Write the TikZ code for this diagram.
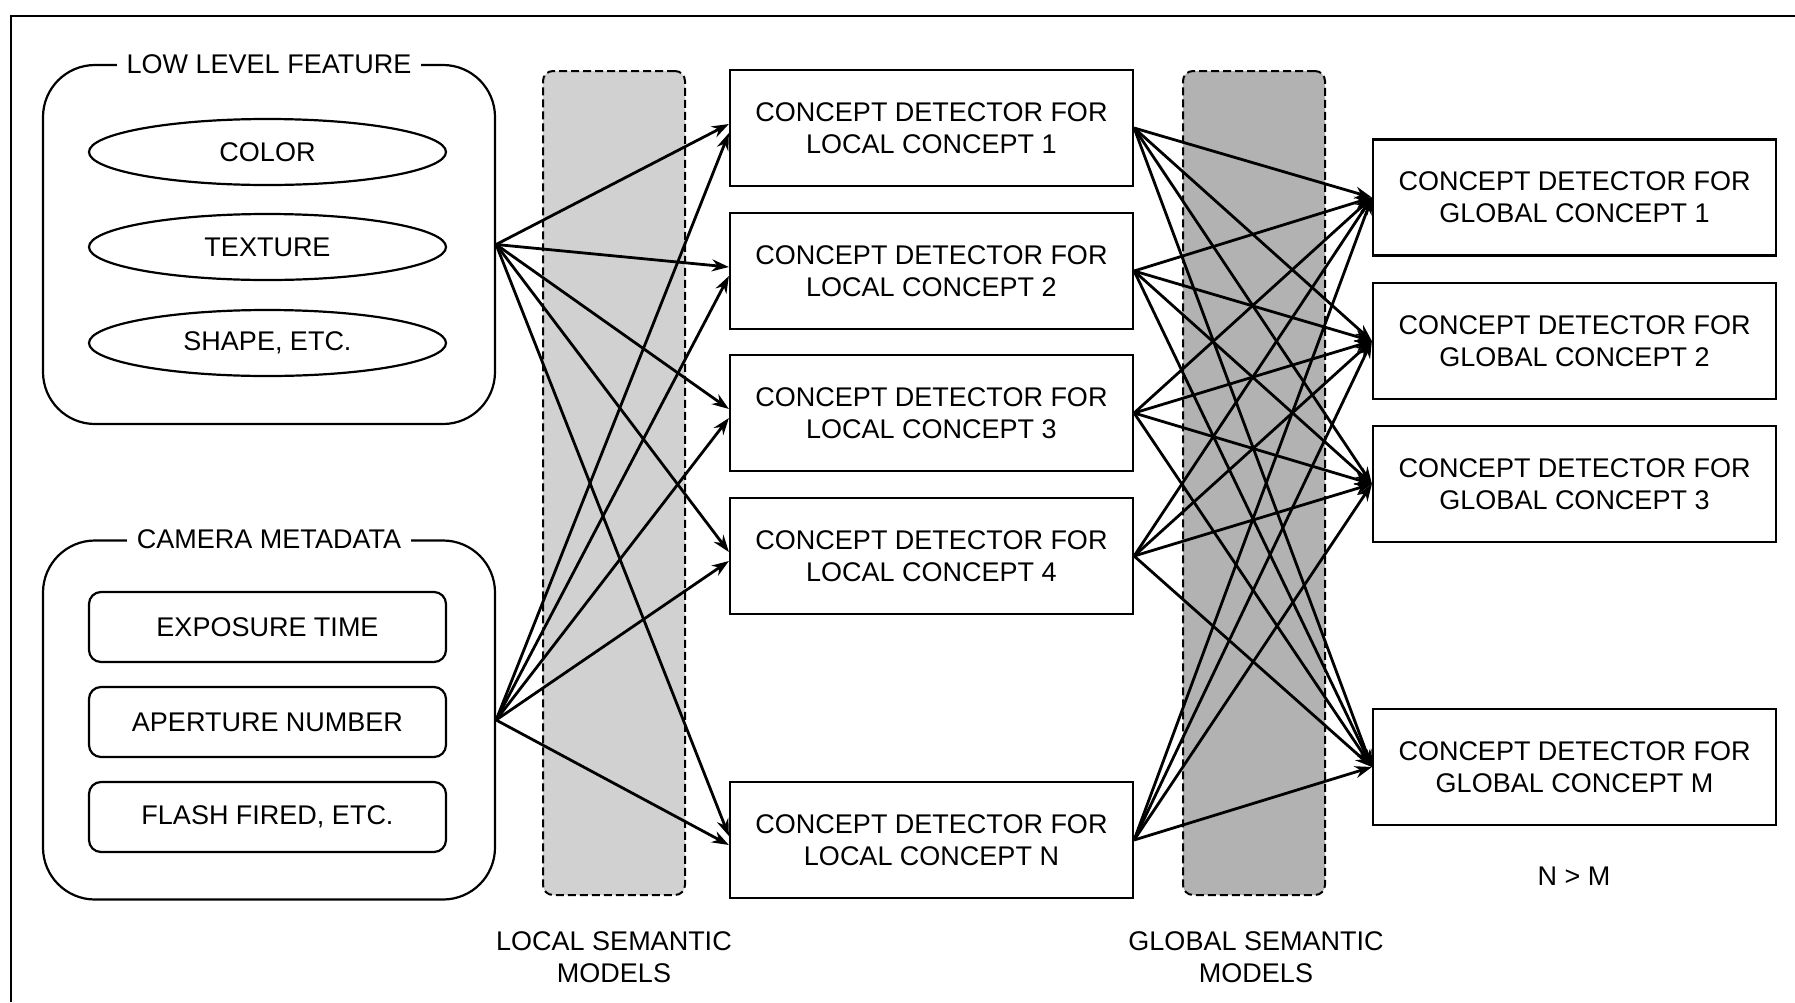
\documentclass[tikz,border=0pt]{standalone}
\usepackage{fontspec}
\setmainfont{Liberation Sans}
\usetikzlibrary{shapes.geometric,arrows.meta}
\begin{document}
\begin{tikzpicture}[x=0.5pt,y=-0.5pt,
  font=\fontsize{13.5}{16}\selectfont,
  group/.style={draw, line width=1.1pt, rounded corners=26pt, minimum width=226pt, minimum height=179.5pt, inner sep=0pt},
  gtitle/.style={fill=white, inner xsep=5pt, inner ysep=1pt},
  oval/.style={ellipse, draw, line width=1.1pt, minimum width=178.5pt, minimum height=33pt, inner sep=0pt},
  rbox/.style={draw, line width=1.1pt, rounded corners=6pt, minimum width=178.5pt, minimum height=35pt, inner sep=0pt},
  band/.style={draw, dashed, dash pattern=on 4pt off 2pt, line width=1pt, rounded corners=5pt, minimum width=71pt, minimum height=412pt, inner sep=0pt},
  det/.style={draw, fill=white, line width=1.1pt, minimum width=201.5pt, minimum height=58pt, align=center, inner sep=0pt},
  lbl/.style={align=center},
  arr/.style={-{Stealth[length=8.5pt,width=6pt]}, line width=1.4pt}
]
\useasboundingbox (0,0) rectangle (1795,1002);
% outer frame (top and left edges)
\draw[line width=1pt] (11,1002) -- (11,16) -- (1795,16);

% bands
\node[band, fill=black!18] (lband) at (614,483) {};
\node[band, fill=black!30] (gband) at (1254,483) {};
\node[lbl] (lbandlbl) at (614,957) {LOCAL SEMANTIC\\MODELS};
\node[lbl] (gbandlbl) at (1256,957) {GLOBAL SEMANTIC\\MODELS};

% low level feature group
\node[group] (low) at (269,244.5) {};
\node[gtitle] (lowt) at (low.north) {LOW LEVEL FEATURE};
\node[oval] (color) at (267.5,152) {COLOR};
\node[oval] (texture) at (267.5,247) {TEXTURE};
\node[oval] (shape) at (267.5,343) {SHAPE, ETC.};

% camera metadata group
\node[group] (cam) at (269,720) {};
\node[gtitle] (camt) at (cam.north) {CAMERA METADATA};
\node[rbox] (expo) at (267.5,627) {EXPOSURE TIME};
\node[rbox] (aper) at (267.5,722) {APERTURE NUMBER};
\node[rbox] (flash) at (267.5,817) {FLASH FIRED, ETC.};

% local concept detectors
\node[det] (lc1) at (931.5,128) {CONCEPT DETECTOR FOR\\LOCAL CONCEPT 1};
\node[det] (lc2) at (931.5,271) {CONCEPT DETECTOR FOR\\LOCAL CONCEPT 2};
\node[det] (lc3) at (931.5,413) {CONCEPT DETECTOR FOR\\LOCAL CONCEPT 3};
\node[det] (lc4) at (931.5,556) {CONCEPT DETECTOR FOR\\LOCAL CONCEPT 4};
\node[det] (lcn) at (931.5,840) {CONCEPT DETECTOR FOR\\LOCAL CONCEPT N};

% global concept detectors
\node[det] (gc1) at (1574.5,197.5) {CONCEPT DETECTOR FOR\\GLOBAL CONCEPT 1};
\node[det] (gc2) at (1574.5,341) {CONCEPT DETECTOR FOR\\GLOBAL CONCEPT 2};
\node[det] (gc3) at (1574.5,484) {CONCEPT DETECTOR FOR\\GLOBAL CONCEPT 3};
\node[det] (gcm) at (1574.5,767) {CONCEPT DETECTOR FOR\\GLOBAL CONCEPT M};
\node (nm) at (1574,876) {N > M};

% feature -> local
\foreach \t in {lc1,lc2,lc3,lc4,lcn}{
  \draw[arr] (low.east) -- ([yshift=2pt]\t.west);
  \draw[arr] (cam.east) -- ([yshift=-2.5pt]\t.west);
}
% local -> global
\foreach \s in {lc1,lc2,lc3,lc4,lcn}{
  \foreach \t in {gc1,gc2,gc3,gcm}{
    \draw[arr] (\s.east) -- (\t.west);
  }
}
\end{tikzpicture}
\end{document}
